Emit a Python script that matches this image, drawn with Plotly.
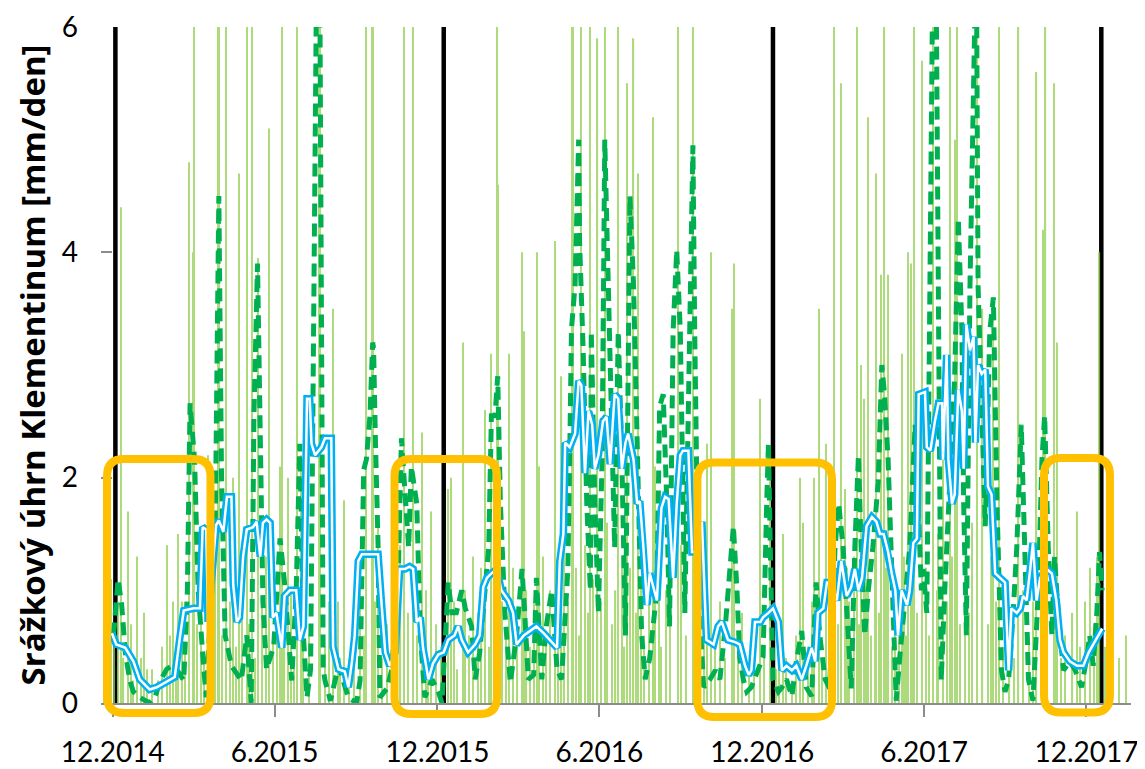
import plotly.graph_objects as go

# x values are days counted from 16.12.2014
rain_days = [
    22, 30, 40, 51, 68, 73, 80, 86, 98, 102, 103, 119, 130, 131, 139, 147, 153, 162, 168, 175,
    187, 199, 201, 208, 218, 222, 242, 244, 258, 263, 270, 295, 301, 302, 308, 337, 347, 357,
    367, 386, 389, 402, 414, 427, 434, 440, 441, 454, 468, 470, 485, 487, 505, 512, 524, 525,
    534, 544, 552, 560, 575, 585, 592, 597, 614, 616, 641, 658, 674, 678, 701, 704, 733, 744,
    758, 777, 780, 793, 798, 806, 815, 823, 827, 840, 845, 848, 853, 862, 867, 871, 875, 890,
    897, 900, 904, 913, 925, 936, 944, 949, 952, 974, 980, 992, 998, 1020, 1040, 1047, 1050,
    1059, 1063, 1085, 1099, 1110,
    3, 8, 11, 14, 19, 25, 33, 36, 45, 48, 57, 63, 77, 83, 90, 93, 107, 111, 115,
    123, 127, 135, 143, 150, 157, 165, 171, 179, 183, 191, 196, 204, 211, 215, 225,
    231, 249, 253, 266, 276, 281, 288, 292, 305, 312, 318, 324, 329, 333,
    341, 351, 361, 364, 372, 378, 392, 396, 405, 409, 419, 423, 431, 437, 446, 450, 458,
    463, 473, 477, 481, 491, 495, 499, 508, 515, 519, 528, 531, 538, 541, 547, 556, 563, 568,
    572, 579, 582, 588, 595, 600, 604, 609, 620, 623, 628, 633, 645, 650, 662, 666, 670, 683,
    688, 694,
    708, 713, 720, 726, 737, 751, 754, 762, 768, 773, 786, 790, 802, 810, 819, 829,
    832, 837, 843, 850, 856, 860, 865, 873, 879, 883, 887, 893, 895, 902, 907, 917, 920, 929,
    931, 940, 946, 955, 961, 965, 968, 979, 986, 989, 995, 1003, 1010, 1015, 1025, 1032, 1036,
    1052, 1061, 1067, 1072, 1080, 1088, 1094, 1104, 1107, 1116, 1124, 1132, 1139,
]
rain_mm = [
    4.4, 1.7, 1.3, 0.3, 0.5, 1.4, 0.9, 1.5, 4.8, 4.0, 8.5, 2.2, 7.2, 9.6, 7.8, 2.0, 4.7, 8.1, 7.0, 3.95,
    5.1, 2.1, 7.4, 2.0, 8.3, 2.2, 8.0, 10.5, 3.5, 0.9, 1.8, 7.6, 6.9, 9.2, 1.6, 8.8, 7.1, 2.4,
    1.7, 1.9, 2.0, 3.2, 1.3, 2.6, 3.1, 7.5, 4.6, 3.1, 4.0, 3.3, 4.0, 2.1, 4.1, 2.9, 7.3, 8.4,
    8.0, 7.1, 5.9, 9.3, 7.7, 5.5, 5.9, 4.7, 5.2, 2.1, 7.2, 8.6, 2.3, 4.0, 3.5, 3.9, 2.7, 2.2,
    1.5, 2.0, 1.6, 2.0, 3.5, 2.3, 7.4, 5.5, 1.9, 8.2, 3.0, 2.7, 5.2, 4.7, 3.8, 7.9, 3.8, 3.1,
    4.0, 3.9, 7.0, 5.7, 8.8, 2.5, 8.0, 5.0, 7.3, 9.0, 3.5, 3.6, 7.2, 8.0, 5.6, 4.2, 7.5,
    5.5, 3.2, 1.7, 1.2, 4.0,
    0.3, 0.6, 1.1, 0.5, 0.9, 0.4, 0.7, 0.2, 0.4, 0.8, 0.3, 0.2, 0.6, 0.3, 0.9, 0.5, 0.7, 1.0, 0.4,
    0.8, 1.2, 0.6, 0.9, 0.5, 1.1, 0.7, 0.4, 0.9, 1.3, 0.6, 0.8, 0.5, 1.0, 0.3, 0.7,
    0.6, 0.5, 0.9, 0.4, 0.3, 0.8, 1.1, 0.6, 0.9, 0.4, 0.7, 1.0, 0.5, 1.4,
    0.8, 0.6, 1.0, 0.4, 0.7, 0.5, 0.9, 0.3, 1.0, 0.6, 0.8, 1.2, 0.5, 1.1, 0.9, 0.6, 1.2,
    0.7, 1.0, 0.5, 0.9, 1.3, 0.6, 1.0, 0.8, 1.5, 0.9, 1.2, 0.6, 1.4, 0.8, 1.1, 0.9, 1.6, 0.7,
    1.0, 1.3, 0.5, 1.2, 0.8, 1.1, 0.6, 0.9, 1.2, 0.5, 1.0, 0.8, 1.4, 0.6, 1.0, 0.5, 0.8, 0.6,
    0.9, 0.4,
    0.5, 0.8, 0.3, 0.6, 0.4, 0.3, 0.7, 0.4, 0.2, 0.6, 0.5, 0.9, 0.4, 1.0, 0.7, 1.2,
    0.9, 1.3, 0.7, 1.1, 0.6, 1.4, 0.8, 1.2, 0.5, 1.0, 0.7, 1.3, 0.6, 1.1, 0.8, 1.2, 0.6, 1.0,
    1.5, 0.9, 1.3, 0.7, 1.2, 0.8, 1.6, 1.0, 0.7, 1.3, 0.9, 0.5, 0.8, 0.4, 1.0, 0.6, 0.9,
    0.7, 0.9, 0.4, 0.6, 0.8, 0.5, 0.9, 0.7, 1.3, 0.5, 0.8, 0.4, 0.6,
]

# short moving average (dashed dark green)
avg_short_days = [
    14, 19, 23, 27, 32, 36, 43, 54, 60, 66, 73, 79, 84, 92, 96, 99, 104, 108, 114, 117, 119,
    127, 131, 134, 138, 145, 156, 162, 167, 170, 174, 177, 180, 184, 192, 199, 204, 212, 217,
    221, 225, 229, 233, 236, 240, 243, 247, 249, 255, 264, 275, 284, 288, 292, 295, 299, 302,
    303, 305, 308, 310, 318, 323, 330, 334, 338, 342, 345, 351, 355, 360, 368, 375, 379, 386,
    390, 395, 401, 405, 412, 416, 421, 427, 431, 434, 438, 441, 444, 449, 453, 455, 462, 468,
    471, 475, 481, 484, 490, 495, 501, 507, 512, 519, 521, 523, 527, 531, 532, 536, 540, 544,
    545, 549, 553, 557, 560, 564, 568, 571, 575, 579, 583, 586, 588, 592, 596, 601, 605, 610,
    618, 621, 625, 629, 632, 636, 640, 644, 649, 655, 658, 660, 664, 670, 677, 683, 688, 694,
    697, 703, 707, 710, 714, 718, 723, 731, 736, 740, 742, 744, 747, 753, 757, 762, 768, 773,
    779, 784, 790, 795, 799, 805, 810, 816, 820, 825, 831, 834, 838, 842, 845, 849, 853, 858,
    864, 868, 871, 875, 879, 883, 884, 888, 894, 899, 905, 908, 912, 914, 918, 921, 925, 928,
    931, 934, 938, 944, 949, 953, 957, 959, 962, 966, 970, 971, 973, 975, 979, 983, 988, 992,
    996, 1001, 1005, 1009, 1014, 1018, 1023, 1027, 1031, 1036, 1042, 1046, 1049, 1053, 1057,
    1060, 1064, 1070, 1077, 1083, 1090, 1096, 1099, 1103, 1107, 1110, 1113,
]
avg_short_mm = [
    0.6, 1.1, 0.87, 0.45, 0.2, 0.1, 0.05, 0.0, 0.05, 0.2, 0.3, 0.33, 0.3, 0.2, 1.0, 2.66, 2.16, 1.0, 0.33, 0.05, 0.4,
    1.56, 4.5, 2.0, 0.6, 0.33, 0.2, 0.6, 0.0, 2.55, 3.9, 2.55, 0.9, 0.3, 0.5, 1.46, 1.07, 0.2, 1.0,
    2.3, 0.6, 0.05, 0.3, 3.0, 6.8, 6.8, 0.3, 0.2, 0.02, 0.33, 0.05, 0.0, 0.2, 2.07, 2.16, 2.55, 3.2,
    3.15, 2.35, 1.4, 0.05, 0.13, 0.29, 1.0, 2.35, 1.85, 1.38, 2.1, 1.77, 0.6, 0.05, 0.21, 0.1, 0.0, 1.07,
    0.8, 0.8, 1.0, 0.84, 0.68, 0.21, 0.45, 1.07, 1.38, 2.55, 2.55, 2.9, 1.77, 0.8, 0.4, 0.18, 0.6, 1.19,
    0.8, 0.21, 0.25, 1.11, 0.21, 0.68, 1.0, 0.29, 0.21, 1.19, 2.16, 3.32, 3.71, 5.0, 4.1, 3.13, 1.77, 1.0,
    3.3, 1.77, 0.8, 2.16, 5.0, 3.71, 2.55, 1.38, 3.3, 2.16, 0.6, 3.52, 4.5, 3.71, 2.16, 0.6, 0.21, 0.4,
    1.0, 2.63, 2.74, 1.77, 0.68, 3.3, 4.02, 3.3, 0.8, 3.3, 4.95, 3.3, 1.0, 0.14, 0.21, 0.29, 0.21, 0.68,
    1.0, 1.57, 1.0, 0.41, 0.21, 0.1, 0.14, 0.29, 0.41, 1.77, 2.31, 1.38, 0.21, 0.1, 0.14, 0.21, 0.06, 0.37,
    0.64, 0.14, 0.06, 1.07, 0.6, 0.21, 0.13, 1.38, 1.77, 1.38, 0.41, 0.13, 1.38, 2.2, 1.38, 0.6, 1.0, 1.38,
    1.96, 3.0, 2.74, 2.16, 1.19, 0.29, 0.02, 0.41, 1.0, 1.38, 2.47, 1.77, 1.0, 1.19, 0.8, 3.3, 6.8, 6.8,
    2.55, 0.2, 1.0, 1.96, 2.9, 4.3, 3.32, 1.77, 0.6, 3.7, 5.3, 6.8, 6.8, 3.7, 2.55, 1.57, 3.3, 3.6,
    1.77, 0.29, 0.1, 0.21, 0.8, 1.38, 2.47, 1.38, 0.21, 0.02, 1.0, 2.16, 2.55, 1.38, 0.6,
    1.3, 0.8, 0.29, 0.37, 0.29, 0.14, 0.41, 0.6, 0.33, 0.8, 1.34, 1.0,
]

# long moving average (blue double line)
avg_long_days = [
    12, 17, 27, 36, 43, 54, 62, 73, 82, 88, 92, 103, 110, 113, 117, 119, 128, 131, 136, 140,
    145, 147, 151, 154, 158, 162, 169, 173, 177, 180, 184, 188, 191, 195, 201, 204, 210, 217,
    221, 225, 229, 232, 234, 238, 245, 249, 256, 258, 264, 271, 275, 279, 282, 286, 290, 301,
    308, 312, 316, 321, 327, 332, 338, 343, 347, 351, 355, 358, 364, 369, 375, 381, 386, 393,
    397, 401, 405, 408, 416, 421, 425, 429, 434, 440, 445, 453, 458, 462, 470, 477, 484, 492,
    499, 507, 510, 514, 516, 521, 527, 531, 534, 538, 542, 546, 549, 553, 558, 562, 566, 571,
    575, 579, 583, 586, 592, 596, 599, 603, 607, 610, 614, 618, 623, 627, 631, 636, 640, 644,
    647, 653, 657, 662, 668, 673, 681, 686, 690, 697, 705, 710, 716, 720, 723, 727, 733, 736,
    742, 747, 753, 757, 762, 768, 773, 779, 784, 790, 794, 797, 803, 807, 812, 818, 823, 829,
    834, 838, 842, 846, 851, 857, 862, 866, 870, 875, 879, 883, 886, 890, 896, 899, 903, 907,
    909, 916, 918, 922, 927, 931, 935, 936, 940, 942, 946, 949, 953, 957, 959, 962, 966, 970,
    972, 975, 979, 983, 986, 990, 994, 999, 1005, 1009, 1012, 1018, 1022, 1025, 1029, 1033,
    1036, 1040, 1044, 1051, 1057, 1062, 1066, 1070, 1077, 1085, 1092, 1098, 1103, 1109, 1113,
]
avg_long_mm = [
    0.62, 0.52, 0.49, 0.37, 0.21, 0.12, 0.14, 0.19, 0.23, 0.60, 0.82, 0.84, 0.84, 1.56, 1.54, 0.72, 1.58, 1.62, 1.52, 1.83,
    1.83, 1.05, 0.72, 0.76, 1.30, 1.54, 1.56, 1.61, 1.30, 1.60, 1.63, 1.60, 0.76, 0.80, 0.49, 0.95, 1.0, 1.0,
    0.56, 0.68, 2.70, 2.70, 2.30, 2.20, 2.27, 2.35, 2.35, 0.50, 0.30, 0.28, 0.14, 0.37, 0.60, 1.26, 1.32, 1.32,
    1.32, 0.87, 0.45, 0.33, 0.45, 1.19, 1.19, 1.21, 1.19, 0.72, 0.76, 0.49, 0.21, 0.35, 0.43, 0.45, 0.56, 0.60,
    0.68, 0.56, 0.49, 0.45, 0.52, 0.60, 1.03, 1.11, 1.15, 1.19, 1.0, 0.91, 0.80, 0.52, 0.60, 0.64, 0.68, 0.62,
    0.56, 0.49, 1.26, 1.50, 2.31, 2.27, 2.39, 2.86, 2.82, 2.04, 2.59, 2.47, 2.08, 2.20, 2.50, 2.54, 2.12, 2.74,
    2.70, 2.08, 2.31, 2.39, 2.16, 1.77, 1.79, 1.38, 0.87, 1.15, 1.03, 0.91, 1.73, 1.83, 1.81, 1.11, 1.77, 2.20,
    2.24, 2.24, 1.34, 1.34, 1.61, 0.56, 0.52, 0.68, 0.72, 0.56, 0.54, 0.52, 0.33, 0.25, 0.29, 0.72, 0.72, 0.76,
    0.80, 0.84, 0.72, 0.29, 0.33, 0.29, 0.33, 0.21, 0.33, 0.49, 0.37, 0.80, 0.84, 1.07, 1.07, 0.91, 1.26, 0.95,
    1.03, 1.19, 1.0, 1.11, 1.57, 1.65, 1.61, 1.50, 1.50, 1.34, 1.15, 1.0, 0.60, 1.0, 0.87, 1.0, 1.42, 1.46,
    2.74, 2.76, 2.27, 2.24, 2.50, 2.66, 2.66, 2.16, 3.09, 2.16, 1.77, 1.85, 2.78, 2.59, 2.08, 3.36, 3.13, 3.25,
    2.31, 3.0, 2.92, 2.96, 1.92, 1.85, 1.15, 1.11, 1.07, 0.29, 0.84, 0.80, 0.84, 0.95, 0.91, 1.19,
    1.42, 0.91, 1.11, 1.19, 1.15, 0.91, 0.56, 0.45, 0.37, 0.33, 0.33, 0.45, 0.52, 0.60, 0.66,
]

year_start_days = [16, 381, 747, 1112]
tick_days = [13, 193, 374, 554, 735, 915, 1095.5]
tick_labels = ["12.2014", "6.2015", "12.2015", "6.2016", "12.2016", "6.2017", "12.2017"]

# highlighted winter windows (orange boxes)
box_start = [6.7, 326.3, 663.0, 1048.3]
box_end = [121.7, 440.2, 812.6, 1121.6]
box_top = [2.166, 2.166, 2.134, 2.175]
box_bottom = [-0.089, -0.098, -0.124, -0.084]

X_MAX = 1145
Y_MAX = 6
# page body has an 8px margin, so the figure is slightly smaller than the window
W, H = 1137, 761
ML, MR, MT, MB = 93, 14, 19, 66

fig = go.Figure()
fig.add_trace(go.Bar(
    x=rain_days, y=rain_mm, width=1.3,
    marker=dict(color="#92D050", line=dict(width=0)), opacity=0.75,
    hoverinfo="skip",
))
fig.add_trace(go.Scatter(
    x=avg_short_days, y=avg_short_mm, mode="lines",
    line=dict(color="#00B050", width=5, dash="13px,7px"),
    hoverinfo="skip",
))
fig.add_trace(go.Scatter(
    x=avg_long_days, y=avg_long_mm, mode="lines",
    line=dict(color="#00B0F0", width=7.5),
    hoverinfo="skip",
))
fig.add_trace(go.Scatter(
    x=avg_long_days, y=avg_long_mm, mode="lines",
    line=dict(color="white", width=2.5),
    hoverinfo="skip",
))

shapes = []
for d in year_start_days:
    shapes.append(dict(type="line", xref="x", yref="y", x0=d, x1=d, y0=0, y1=Y_MAX,
                       line=dict(color="black", width=4.5), layer="below"))

plot_w = W - ML - MR
plot_h = H - MT - MB
r_px = 17
rx = r_px * X_MAX / plot_w
ry = r_px / plot_h
for x0, x1, t, b in zip(box_start, box_end, box_top, box_bottom):
    y1 = t / Y_MAX
    y0 = b / Y_MAX
    path = (f"M {x0+rx},{y1} L {x1-rx},{y1} Q {x1},{y1} {x1},{y1-ry} "
            f"L {x1},{y0+ry} Q {x1},{y0} {x1-rx},{y0} "
            f"L {x0+rx},{y0} Q {x0},{y0} {x0},{y0+ry} "
            f"L {x0},{y1-ry} Q {x0},{y1} {x0+rx},{y1} Z")
    shapes.append(dict(type="path", xref="x", yref="paper", path=path,
                       line=dict(color="#FFC000", width=8), layer="above"))

fig.update_layout(
    width=W, height=H,
    margin=dict(l=ML, r=MR, t=MT, b=MB, autoexpand=False),
    plot_bgcolor="white", paper_bgcolor="white",
    showlegend=False,
    shapes=shapes,
    font=dict(family="Lato", color="black"),
    xaxis=dict(
        range=[0, X_MAX], tickvals=tick_days, ticktext=tick_labels,
        ticks="outside", ticklen=12, tickcolor="#8c8c8c", tickwidth=1.5,
        showline=True, linecolor="#8c8c8c", linewidth=1.5,
        showgrid=False, zeroline=False,
        tickfont=dict(size=28, family="Lato", color="black"),
        ticklabelstandoff=12,
    ),
    yaxis=dict(
        range=[0, Y_MAX], tickvals=[0, 2, 4, 6], ticktext=["0", "2", "4", "6"],
        ticks="inside", ticklen=11, tickcolor="#8c8c8c", tickwidth=1.5,
        showline=False, showgrid=False, zeroline=False,
        tickfont=dict(size=28, family="Lato", color="black"),
        ticklabelstandoff=22,
        title=dict(text="Srážkový úhrn Klementinum [mm/den]",
                   font=dict(size=33, family="Open Sans", weight="bold", color="black"),
                   standoff=6),
    ),
)

fig.write_html("out.html")
